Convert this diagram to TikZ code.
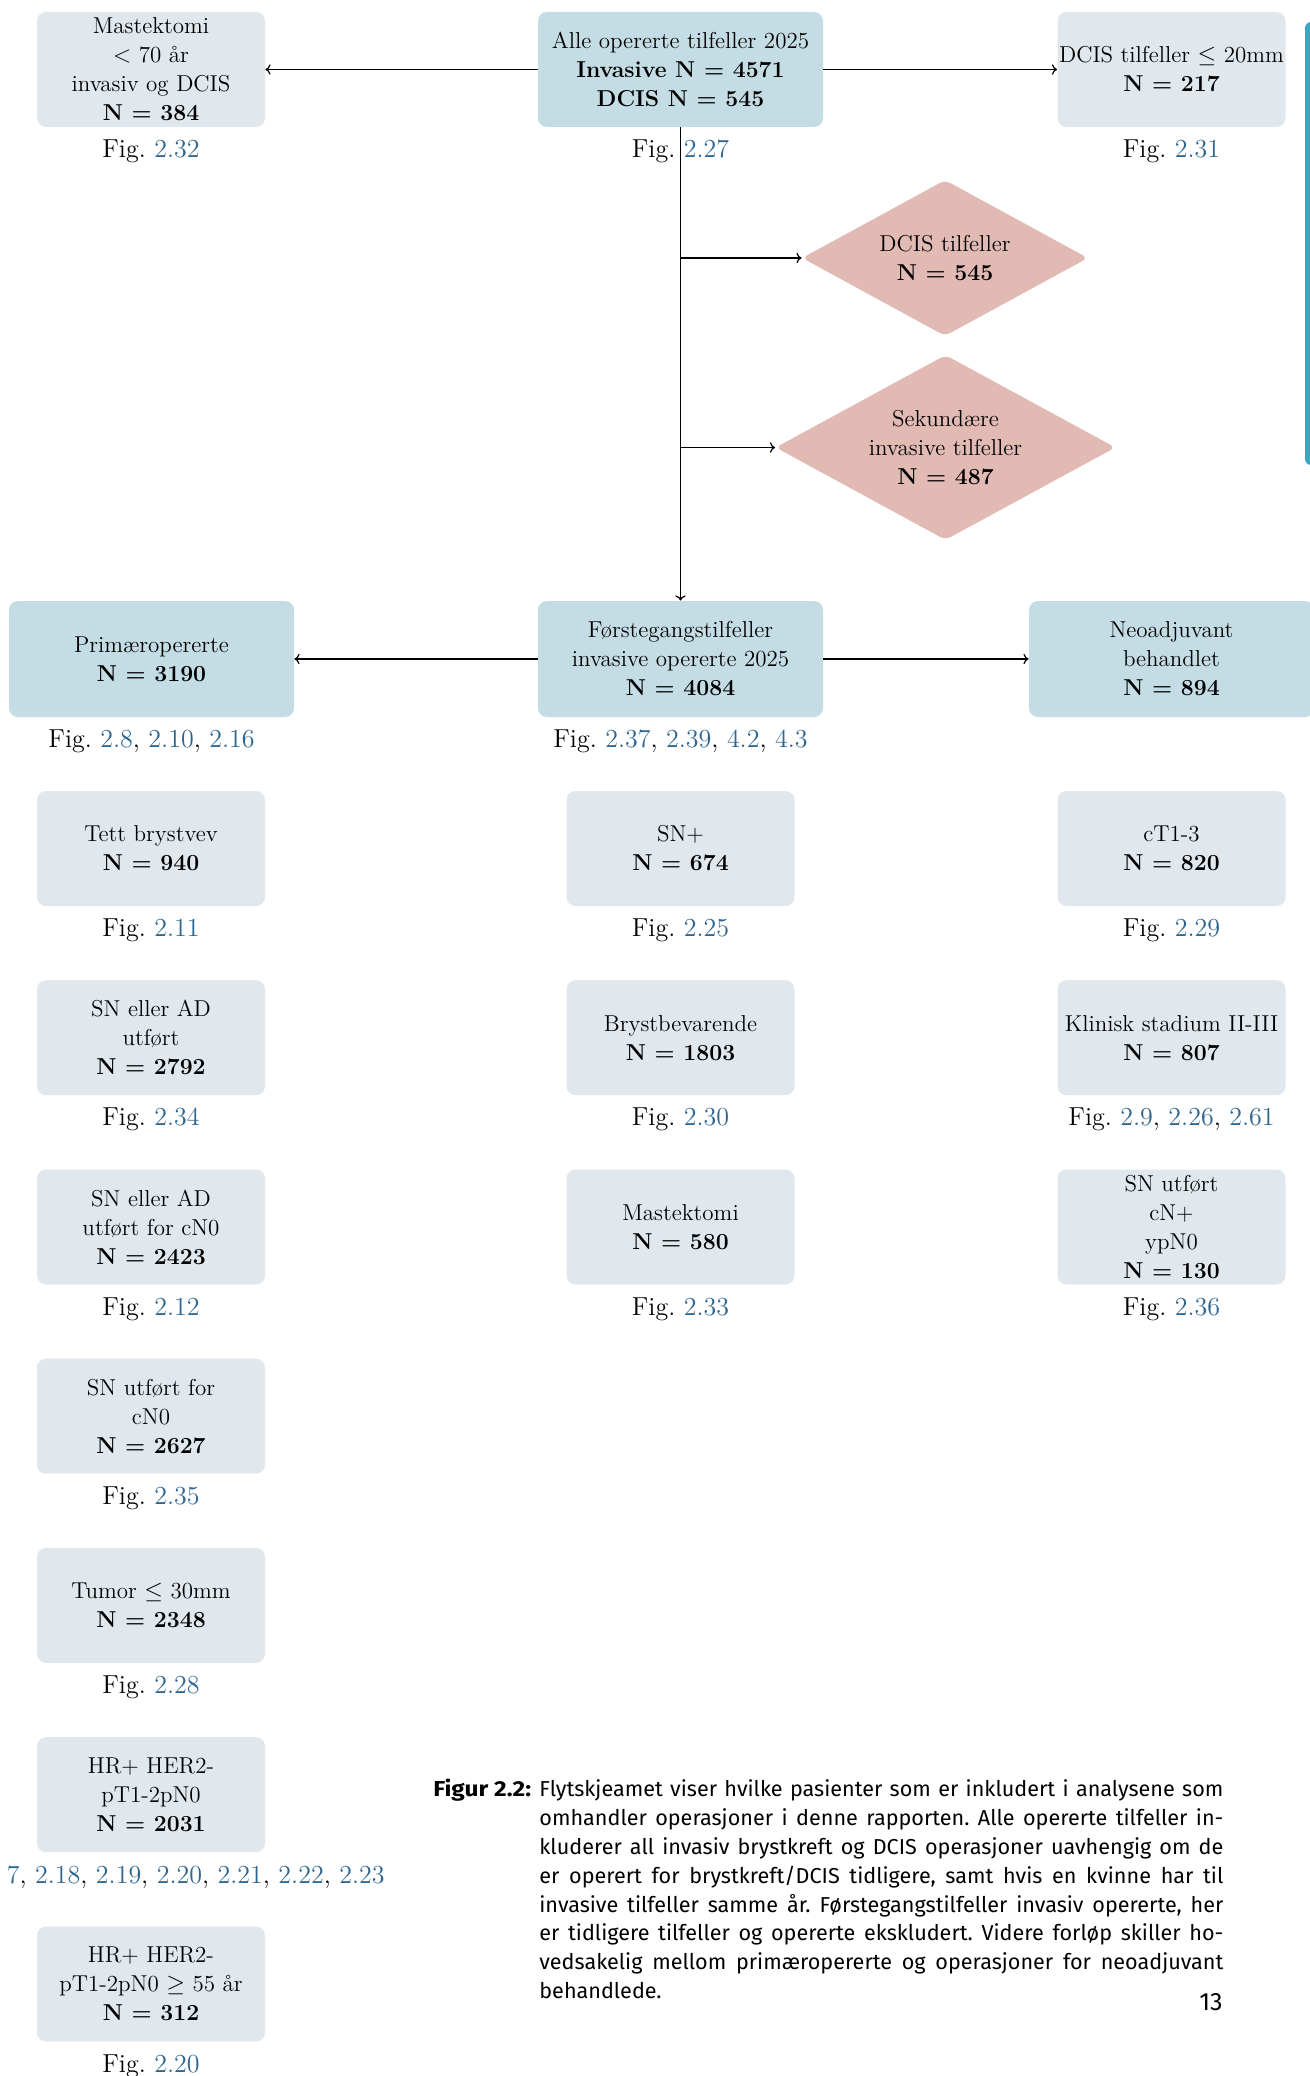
\documentclass[tikz,border=0pt]{standalone}
\usepackage{fontspec}
\newfontfamily\capfont{Fira Sans}
\newfontfamily\caplabfont[FakeStretch=1.13]{Fira Sans}
\usetikzlibrary{shapes.geometric,arrows.meta}
\definecolor{boxlight}{HTML}{E0E8EE}
\definecolor{boxdark}{HTML}{C4DCE3}
\definecolor{diafill}{HTML}{E2BAB4}
\definecolor{linkblue}{HTML}{2E6690}
\definecolor{tealbar}{HTML}{40A5C0}
\newcommand\lnk[1]{\textcolor{linkblue}{#1}}
\newcommand\capline[1]{\makebox[342pt][s]{#1}}
\frenchspacing
\begin{document}
\begin{tikzpicture}[x=0.5pt,y=-0.5pt,
  txt/.style={font=\fontsize{11.5}{14.5}\selectfont, align=center},
  lbox/.style={txt, fill=boxlight, rounded corners=4.5pt, minimum width=114pt, minimum height=57.5pt, inner sep=0pt},
  dbox/.style={lbox, fill=boxdark, minimum width=142.5pt, minimum height=58pt},
  dia/.style={txt, diamond, fill=diafill, rounded corners=3pt, inner sep=0pt, shape aspect=1.8},
  figlab/.style={font=\fontsize{13}{15}\selectfont, inner sep=0pt},
  conn/.style={line width=0.6pt, -{To[length=2.6pt,width=5.2pt]}}
]
\useasboundingbox (0,0) rectangle (1310,2076);
\clip (0,0) rectangle (1310,2076);
\fill[white] (0,0) rectangle (1310,2076);

% teal bar at right edge
\fill[tealbar, rounded corners=3pt] (1305,22) rectangle (1325,465);

% top row
\node[dbox, minimum height=57.5pt] (all) at (680.5,69.5) {Alle opererte tilfeller 2025\\\textbf{Invasive N = 4571}\\\textbf{DCIS N = 545}};
\node[lbox] (mast) at (151,69.5) {Mastektomi\\$<$ 70 år\\invasiv og DCIS\\\textbf{N = 384}};
\node[lbox] (dcis20) at (1171.5,69.5) {DCIS tilfeller $\leq$ 20mm\\\textbf{N = 217}};
\node[figlab] (fmast) at (151,151) {Fig. \lnk{2.32}};
\node[figlab] (fall) at (680.5,151) {Fig. \lnk{2.27}};
\node[figlab] (fdcis20) at (1171.5,151) {Fig. \lnk{2.31}};

% diamonds
\node[dia, minimum width=143pt, minimum height=78pt] (dcisd) at (945,258) {DCIS tilfeller\\\textbf{N = 545}};
\node[dia, minimum width=170pt, minimum height=92.5pt] (sek) at (945.5,447.5) {Sekundære\\invasive tilfeller\\\textbf{N = 487}};

% second row
\node[dbox] (forst) at (680.5,659) {Førstegangstilfeller\\invasive opererte 2025\\\textbf{N = 4084}};
\node[dbox] (prim) at (151.5,659) {Primæropererte\\\textbf{N = 3190}};
\node[dbox] (neo) at (1171.5,659) {Neoadjuvant\\behandlet\\\textbf{N = 894}};
\node[figlab] (fprim) at (151.5,741) {Fig. \lnk{2.8}, \lnk{2.10}, \lnk{2.16}};
\node[figlab] (fforst) at (680.5,741) {Fig. \lnk{2.37}, \lnk{2.39}, \lnk{4.2}, \lnk{4.3}};

% connectors
\draw[conn] (all.west) -- (mast.east);
\draw[conn] (all.east) -- (dcis20.west);
\draw[conn] (all.south) -- (forst.north);
\draw[conn] (all.south |- dcisd.west) -- (dcisd.west);
\draw[conn] (all.south |- sek.west) -- (sek.west);
\draw[conn] (forst.west) -- (prim.east);
\draw[conn] (forst.east) -- (neo.west);

% left column
\node[lbox] (l1) at (151,848.5) {Tett brystvev\\\textbf{N = 940}};
\node[figlab] (fl1) at (151,930.5) {Fig. \lnk{2.11}};
\node[lbox] (l2) at (151,1037.7) {SN eller AD\\utført\\\textbf{N = 2792}};
\node[figlab] (fl2) at (151,1119.7) {Fig. \lnk{2.34}};
\node[lbox] (l3) at (151,1227) {SN eller AD\\utført for cN0\\\textbf{N = 2423}};
\node[figlab] (fl3) at (151,1309) {Fig. \lnk{2.12}};
\node[lbox] (l4) at (151,1416.2) {SN utført for\\cN0\\\textbf{N = 2627}};
\node[figlab] (fl4) at (151,1498.2) {Fig. \lnk{2.35}};
\node[lbox] (l5) at (151,1605.4) {Tumor $\leq$ 30mm\\\textbf{N = 2348}};
\node[figlab] (fl5) at (151,1687.4) {Fig. \lnk{2.28}};
\node[lbox] (l6) at (151,1794.7) {HR+ HER2-\\pT1-2pN0\\\textbf{N = 2031}};
\node[figlab, anchor=east] (fl6) at (385,1876.7) {\lnk{7}, \lnk{2.18}, \lnk{2.19}, \lnk{2.20}, \lnk{2.21}, \lnk{2.22}, \lnk{2.23}};
\node[lbox] (l7) at (151,1984) {HR+ HER2-\\pT1-2pN0 $\geq$ 55 år\\\textbf{N = 312}};
\node[figlab] (fl7) at (151,2066) {Fig. \lnk{2.20}};

% center column
\node[lbox] (c1) at (680.5,848.5) {SN+\\\textbf{N = 674}};
\node[figlab] (fc1) at (680.5,930.5) {Fig. \lnk{2.25}};
\node[lbox] (c2) at (680.5,1037.7) {Brystbevarende\\\textbf{N = 1803}};
\node[figlab] (fc2) at (680.5,1119.7) {Fig. \lnk{2.30}};
\node[lbox] (c3) at (680.5,1227) {Mastektomi\\\textbf{N = 580}};
\node[figlab] (fc3) at (680.5,1309) {Fig. \lnk{2.33}};

% right column
\node[lbox] (r1) at (1171.5,848.5) {cT1-3\\\textbf{N = 820}};
\node[figlab] (fr1) at (1171.5,930.5) {Fig. \lnk{2.29}};
\node[lbox] (r2) at (1171.5,1037.7) {Klinisk stadium II-III\\\textbf{N = 807}};
\node[figlab] (fr2) at (1171.5,1119.7) {Fig. \lnk{2.9}, \lnk{2.26}, \lnk{2.61}};
\node[lbox] (r3) at (1171.5,1227) {SN utført\\cN+\\ypN0\\\textbf{N = 130}};
\node[figlab] (fr3) at (1171.5,1309) {Fig. \lnk{2.36}};

% caption
\node[anchor=north west, inner sep=0pt, align=left,
      font=\capfont\fontsize{10.8}{14.4}\selectfont] (cap) at (433,1779) {%
\makebox[53pt][l]{\caplabfont\bfseries Figur 2.2:}\capline{Flytskjeamet viser hvilke pasienter som er inkludert i analysene som}\\
\hspace*{53pt}\capline{omhandler operasjoner i denne rapporten. Alle opererte tilfeller in-}\\
\hspace*{53pt}\capline{kluderer all invasiv brystkreft og DCIS operasjoner uavhengig om de}\\
\hspace*{53pt}\capline{er operert for brystkreft/DCIS tidligere, samt hvis en kvinne har til}\\
\hspace*{53pt}\capline{invasive tilfeller samme år. Førstegangstilfeller invasiv opererte, her}\\
\hspace*{53pt}\capline{er tidligere tilfeller og opererte ekskludert. Videre forløp skiller ho-}\\
\hspace*{53pt}\capline{vedsakelig mellom primæropererte og operasjoner for neoadjuvant}\\
\hspace*{53pt}behandlede.};
\node[anchor=east, inner sep=0pt, font=\capfont\fontsize{12.5}{15}\selectfont] (pnum) at (1223,2002) {13};
\end{tikzpicture}
\end{document}
